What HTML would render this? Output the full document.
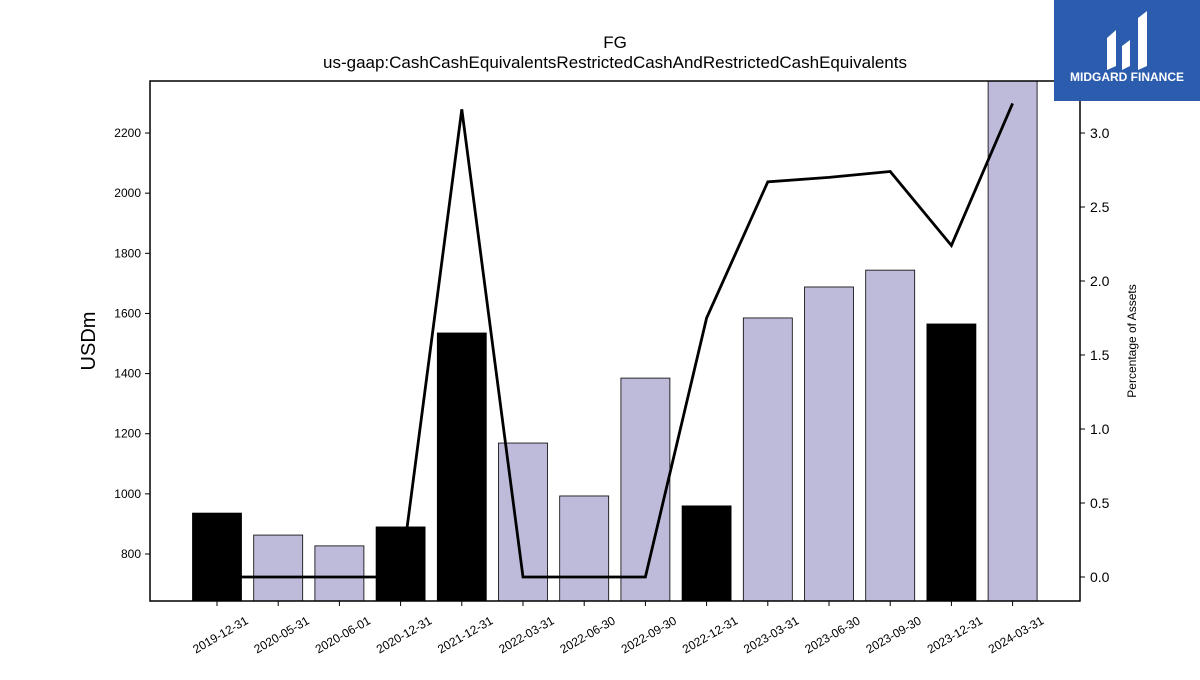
<!DOCTYPE html>
<html><head><meta charset="utf-8"><style>
body{margin:0;background:#fff;font-family:"Liberation Sans",sans-serif}
</style></head><body>
<svg id="chart" width="1200" height="675" xmlns="http://www.w3.org/2000/svg" font-family="Liberation Sans, sans-serif">
<text x="615" y="48" text-anchor="middle" font-size="17">FG</text>
<text x="615" y="68" text-anchor="middle" font-size="17">us-gaap:CashCashEquivalentsRestrictedCashAndRestrictedCashEquivalents</text>
<g id="bars"></g><g id="line"></g><g id="axes"></g>
<rect x="150" y="81" width="930" height="520" fill="none" stroke="#000" stroke-width="1.5"/>
<text transform="translate(95,341) rotate(-90)" text-anchor="middle" font-size="20">USDm</text>
<text transform="translate(1136,341) rotate(-90)" text-anchor="middle" font-size="12">Percentage of Assets</text>
<g>
<rect x="1054" y="0" width="146" height="101" fill="#2b5cad"/>
<path d="M1107 70 L1107 38 L1116 30 L1116 66 Z M1122 70 L1122 46 L1130 40 L1130 66 Z M1138 70 L1138 18 L1147 11 L1147 66 Z" fill="#fff"/>
<text x="1127" y="81" text-anchor="middle" font-size="12" font-weight="bold" fill="#fff">MIDGARD FINANCE</text>
</g>
</svg>
<script>
const categories=["2019-12-31","2020-05-31","2020-06-01","2020-12-31","2021-12-31","2022-03-31","2022-06-30","2022-09-30","2022-12-31","2023-03-31","2023-06-30","2023-09-30","2023-12-31","2024-03-31"];
const cashValues=[936,863,827,890,1535,1169,993,1385,960,1585,1688,1744,1565,2400];
const pctAssets=[0,0,0,0,3.16,0,0,0,1.75,2.67,2.70,2.74,2.24,3.20];
const annual=[true,false,false,true,true,false,false,false,true,false,false,false,true,false];
const leftTicks=[800,1000,1200,1400,1600,1800,2000,2200];
const rightTicks=[0.0,0.5,1.0,1.5,2.0,2.5,3.0];
const NS="http://www.w3.org/2000/svg";
const PT=81,PB=601,PL=150,PR=1080;
const yL=v=>554-(v-800)*0.3007;
const yR=v=>577-v*148;
const xC=i=>217+i*61.2;
function mk(t,a,p){const e=document.createElementNS(NS,t);for(const k in a)e.setAttribute(k,a[k]);p.appendChild(e);return e;}
const bars=document.getElementById('bars'),line=document.getElementById('line'),axes=document.getElementById('axes');
cashValues.forEach((v,i)=>{const top=Math.max(PT,yL(v));
const r=mk('rect',{x:xC(i)-24.5,y:top,width:49,height:PB-top,fill:annual[i]?'#000':'#bebad9',stroke:'#000','stroke-width':0.8},bars);


const t=mk('line',{x1:xC(i),x2:xC(i),y1:PB,y2:PB+5,stroke:'#000'},axes);
const lb=mk('text',{transform:`translate(${xC(i)+32},${PB+22}) rotate(-30)`,'text-anchor':'end','font-size':12},axes);
lb.textContent=categories[i];


});
const pl=mk('polyline',{points:pctAssets.map((v,i)=>xC(i)+','+yR(v)).join(' '),fill:'none',stroke:'#000','stroke-width':2.8},line);


leftTicks.forEach(v=>{mk('line',{x1:PL-5,x2:PL,y1:yL(v),y2:yL(v),stroke:'#000'},axes);
const t=mk('text',{x:PL-9,y:yL(v)+4,'text-anchor':'end','font-size':12},axes);t.textContent=v;

});
rightTicks.forEach(v=>{mk('line',{x1:PR,x2:PR+5,y1:yR(v),y2:yR(v),stroke:'#000'},axes);
const t=mk('text',{x:PR+10,y:yR(v)+5,'font-size':14},axes);t.textContent=v.toFixed(1);

});
</script>
</body></html>
